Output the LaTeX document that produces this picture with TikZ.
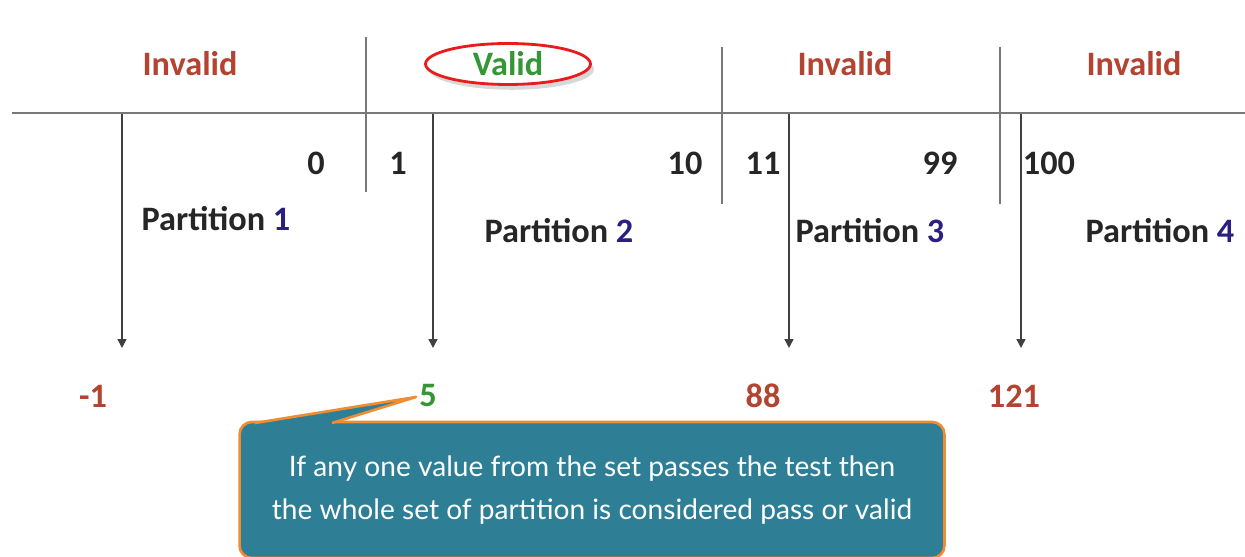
\documentclass[tikz,border=0pt]{standalone}
\usepackage{fontspec}
\setmainfont{Carlito}
\newfontfamily\notefont{Lato}
\usetikzlibrary{shapes.geometric,shadows,arrows.meta}

\definecolor{badred}{RGB}{180,68,50}
\definecolor{okgreen}{RGB}{52,150,52}
\definecolor{numblue}{RGB}{42,32,130}
\definecolor{ovalred}{RGB}{232,28,28}
\definecolor{noteteal}{RGB}{46,126,150}
\definecolor{noteedge}{RGB}{240,140,50}
\definecolor{rulegray}{RGB}{120,120,120}

\tikzset{
  lbl/.style={inner sep=0pt, font=\fontsize{19.5}{21}\selectfont\bfseries},
  hdr/.style={lbl, text=badred},
  num/.style={lbl, text=black!85},
  part/.style={lbl, text=black!85},
  rule/.style={draw=rulegray, line width=1.2pt},
  pointer/.style={draw=black!75, line width=0.8pt, -{Triangle[width=5pt,length=5pt]}},
}

\begin{document}
\begin{tikzpicture}[x=0.02cm,y=-0.02cm]
  \useasboundingbox[fill=white] (0,0) rectangle (1245,557);
  \clip (0,0) rectangle (1245,557);

  % headers
  \node[hdr] (inv1) at (190,64) {Invalid};
  \node[lbl, text=okgreen, ellipse, draw=ovalred, line width=1.6pt,
        minimum width=3.3cm, minimum height=0.82cm, fill=white,
        drop shadow={shadow xshift=2pt, shadow yshift=-3pt, opacity=0.3}] (val) at (508,64) {Valid};
  \node[hdr] (inv2) at (845,64) {Invalid};
  \node[hdr] (inv3) at (1134,64) {Invalid};

  % axis and dividers
  \coordinate (axl) at (12,113);
  \coordinate (axr) at (1245,113);
  \draw[rule] (axl) -- (axr);
  \foreach \x/\a/\b in {366/37/192, 722/47/204, 1000/47/204}
    \draw[draw=rulegray, line width=1pt] (\x,\a) -- (\x,\b);

  % bounds
  \node[num] (n0) at (316,163) {0};
  \node[num] (n1) at (398,163) {1};
  \node[num] (n10) at (685,163) {10};
  \node[num] (n11) at (763,163) {11};
  \node[num] (n99) at (940,163) {99};
  \node[num] (n100) at (1049,163) {100};

  % partitions
  \node[part] (p1) at (216,219) {Partition \textcolor{numblue}{1}};
  \node[part] (p2) at (559,231) {Partition \textcolor{numblue}{2}};
  \node[part] (p3) at (870,231) {Partition \textcolor{numblue}{3}};
  \node[part] (p4) at (1160,231) {Partition \textcolor{numblue}{4}};

  % picks
  \foreach \i/\x in {1/122, 2/433, 3/789, 4/1021} {
    \coordinate (top\i) at (\x,114);
    \coordinate (end\i) at (\x,348);
    \draw[pointer] (top\i) -- (end\i);
  }
  \node[hdr] (v1) at (93,396) {-1};
  \node[lbl, text=okgreen] (v2) at (428,396) {5};
  \node[hdr] (v3) at (763,396) {88};
  \node[hdr] (v4) at (1014,396) {121};

  % callout
  \node[draw=noteedge, line width=1.5pt, fill=noteteal, rounded corners=7pt,
        minimum width=14.1cm, minimum height=2.72cm, inner sep=0pt,
        text=white, align=center,
        font=\notefont\fontsize{16}{24.5}\selectfont] (note) at (592,490)
        {If any one value from the set passes the test then\\
         the whole set of partition is considered pass or valid};
  \coordinate (pb1) at (255,423);
  \coordinate (pb2) at (332,423);
  \coordinate (tip) at (416,397);
  \fill[noteteal] (pb1) -- (tip) -- (pb2) -- (332,428) -- (255,428) -- cycle;
  \draw[noteedge, line width=1.5pt, line join=round] (pb1) -- (tip) -- (pb2);
\end{tikzpicture}
\end{document}
